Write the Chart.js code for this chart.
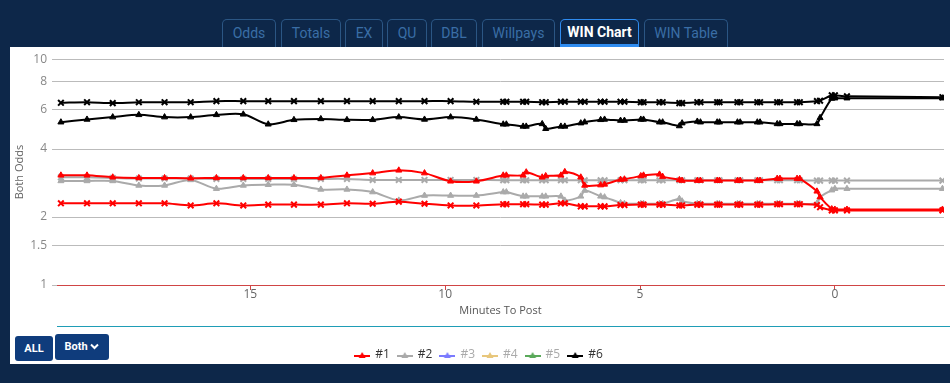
<!DOCTYPE html>
<html>
<head>
<meta charset="utf-8">
<script src="https://cdn.jsdelivr.net/npm/chart.js@4.4.0/dist/chart.umd.min.js"></script>
<style>
    body { margin: 0; width: 950px; height: 383px; background: #0d2749; overflow: hidden; position: relative; font-family: Roboto, sans-serif; }
    .tab { position: absolute; top: 19px; height: 28px; box-sizing: border-box; border: 1px solid #2b5684; border-bottom: none; border-radius: 5px 5px 0 0; color: #3a6ea6; font-size: 14px; line-height: 26px; text-align: center; }
    .tab.active { color: #fff; font-weight: bold; border-color: #2f8cf0; border-bottom: 3px solid #2f8cf0; line-height: 24px; }
    .panel { position: absolute; left: 10px; top: 47px; width: 940px; height: 317px; background: #fff; }
    .chartBox { position: absolute; left: 10px; top: 47px; width: 940px; height: 324px; }
    .teal { position: absolute; left: 57px; top: 326px; width: 893px; height: 1px; background: #1f9db6; }
    .btn { position: absolute; background: #0f3c7c; color: #fff; font: bold 11px Roboto, sans-serif; border-radius: 3px; text-align: center; box-sizing: border-box; }
</style>
</head>
<body>
<div class="tab" style="left:222px;width:54px">Odds</div>
<div class="tab" style="left:281px;width:60px">Totals</div>
<div class="tab" style="left:345px;width:38px">EX</div>
<div class="tab" style="left:387px;width:40px">QU</div>
<div class="tab" style="left:431px;width:46px">DBL</div>
<div class="tab" style="left:482px;width:73px">Willpays</div>
<div class="tab active" style="left:560px;width:79px">WIN Chart</div>
<div class="tab" style="left:644px;width:84px">WIN Table</div>

<div class="panel"></div>
<div class="chartBox"><canvas id="winChart"></canvas></div>
<div class="teal"></div>
<div class="btn" style="left:15px;top:336px;width:38px;height:25px;line-height:25px">ALL</div>
<div class="btn" style="left:55px;top:334px;width:54px;height:26px;line-height:26px">Both <svg width="9" height="7" viewBox="0 0 9 7" style="vertical-align:0px"><path d="M1 1.5 L4.5 5 L8 1.5" stroke="#fff" stroke-width="2" fill="none"/></svg></div>

<script>
// minutes to post for every snapshot
const minutesToPost = [19.86, 19.19, 18.53, 17.86, 17.20, 16.53, 15.87, 15.18, 14.54, 13.88, 13.19, 12.52, 11.86, 11.19, 10.53, 9.86, 9.20,
    8.51, 8.43, 8.00, 7.92, 7.51, 7.42, 7.03, 6.93, 6.52, 6.42, 6.01, 5.91, 5.50, 5.40, 4.98, 4.91, 4.50, 4.42, 3.99, 3.92,
    3.53, 3.45, 3.02, 2.96, 2.50, 2.43, 1.99, 1.92, 1.48, 1.41, 0.97, 0.90, 0.46, 0.38, 0.08, 0.00, -0.31, -2.76];

// win odds (crosses)
const win1 = [2.30, 2.30, 2.30, 2.30, 2.30, 2.25, 2.30, 2.25, 2.27, 2.27, 2.27, 2.30, 2.29, 2.34, 2.29, 2.25, 2.25,
    2.28, 2.28, 2.28, 2.28, 2.27, 2.27, 2.30, 2.30, 2.23, 2.23, 2.23, 2.23, 2.26, 2.26, 2.27, 2.27, 2.27, 2.27, 2.25, 2.25,
    2.27, 2.27, 2.27, 2.27, 2.27, 2.27, 2.27, 2.27, 2.28, 2.28, 2.28, 2.28, 2.26, 2.21, 2.14, 2.14, 2.14, 2.14];
const win2 = [3.00, 3.00, 2.98, 2.96, 2.96, 2.96, 2.95, 2.95, 2.95, 2.95, 2.95, 2.95, 2.92, 2.92, 2.92, 2.92, 2.92,
    2.91, 2.91, 2.91, 2.91, 2.91, 2.91, 2.91, 2.91, 2.91, 2.91, 2.91, 2.91, 2.91, 2.91, 2.91, 2.91, 2.91, 2.91, 2.91, 2.91,
    2.91, 2.91, 2.91, 2.91, 2.91, 2.91, 2.91, 2.91, 2.91, 2.91, 2.91, 2.91, 2.90, 2.90, 2.90, 2.90, 2.90, 2.90];
const win6 = [6.41, 6.45, 6.39, 6.45, 6.45, 6.45, 6.52, 6.52, 6.52, 6.52, 6.52, 6.52, 6.52, 6.52, 6.52, 6.52, 6.48,
    6.48, 6.48, 6.48, 6.48, 6.45, 6.45, 6.48, 6.48, 6.48, 6.48, 6.48, 6.48, 6.48, 6.48, 6.45, 6.45, 6.45, 6.45, 6.39, 6.39,
    6.45, 6.45, 6.45, 6.45, 6.45, 6.45, 6.45, 6.45, 6.45, 6.45, 6.45, 6.45, 6.52, 6.55, 6.92, 6.92, 6.85, 6.79];

// both odds (triangles)
const both1 = [3.06, 3.06, 3.00, 2.98, 2.98, 2.97, 2.98, 2.98, 2.98, 2.98, 2.98, 3.06, 3.13, 3.22, 3.13, 2.88, 2.88,
    3.06, 3.06, 3.06, 3.16, 3.00, 3.04, 3.06, 3.17, 3.00, 2.76, 2.77, 2.79, 2.93, 2.94, 3.04, 3.06, 3.09, 3.02, 2.92, 2.90,
    2.90, 2.90, 2.90, 2.90, 2.90, 2.90, 2.90, 2.90, 2.96, 2.96, 2.96, 2.96, 2.60, 2.45, 2.17, 2.16, 2.16, 2.16];
const both2 = [2.89, 2.89, 2.89, 2.76, 2.76, 2.92, 2.67, 2.76, 2.78, 2.78, 2.65, 2.65, 2.58, 2.37, 2.49, 2.49, 2.49,
    2.58, 2.58, 2.47, 2.47, 2.47, 2.47, 2.47, 2.37, 2.47, 2.62, 2.47, 2.45, 2.31, 2.29, 2.29, 2.29, 2.29, 2.29, 2.41, 2.35,
    2.29, 2.29, 2.29, 2.29, 2.29, 2.29, 2.29, 2.29, 2.29, 2.29, 2.29, 2.29, 2.30, 2.45, 2.63, 2.67, 2.67, 2.67];
const both6 = [5.26, 5.41, 5.54, 5.67, 5.54, 5.54, 5.67, 5.70, 5.15, 5.39, 5.44, 5.39, 5.39, 5.54, 5.41, 5.54, 5.41,
    5.15, 5.15, 5.04, 5.04, 5.17, 4.92, 5.04, 5.04, 5.21, 5.26, 5.39, 5.41, 5.35, 5.35, 5.41, 5.41, 5.26, 5.26, 5.06, 5.21,
    5.30, 5.26, 5.26, 5.26, 5.26, 5.26, 5.26, 5.26, 5.17, 5.17, 5.17, 5.17, 5.17, 5.50, 6.70, 6.72, 6.72, 6.72];

const horseLabels = ["#1", "#2", "#3", "#4", "#5", "#6"];
const horseColors = ["#ff0000", "#aaaaaa", "#7b7bff", "#e8c77c", "#5aa95a", "#000000"];
const horseWin = [win1, win2, [], [], [], win6];
const horseBoth = [both1, both2, [], [], [], both6];
const yTicks = [1, 1.5, 2, 4, 6, 8, 10];
const xTicks = [15, 10, 5, 0];

function toPoints(values) {
    return values.map((v, i) => ({ x: minutesToPost[i], y: v }));
}

// small line + triangle icon for the legend
function legendIcon(color) {
    const c = document.createElement("canvas");
    c.width = 16;
    c.height = 10;
    const g = c.getContext("2d");
    g.strokeStyle = color;
    g.lineWidth = 2;
    g.beginPath();
    g.moveTo(0, 6);
    g.lineTo(16, 6);
    g.stroke();
    g.fillStyle = color;
    g.beginPath();
    g.moveTo(8, 2);
    g.lineTo(11.5, 8);
    g.lineTo(4.5, 8);
    g.closePath();
    g.fill();
    return c;
}

const datasets = [];
horseLabels.forEach((label, i) => {
    datasets.push({
        label: label,
        data: toPoints(horseBoth[i]),
        borderColor: horseColors[i],
        backgroundColor: horseColors[i],
        borderWidth: 2,
        pointStyle: "triangle",
        pointRadius: 3.5,
        pointBorderWidth: 1,
        tension: 0.3,
        legendIcon: legendIcon(horseColors[i]),
        inLegend: true
    });
    datasets.push({
        label: label + " win",
        data: toPoints(horseWin[i]),
        borderColor: horseColors[i],
        backgroundColor: horseColors[i],
        borderWidth: 2,
        pointStyle: "crossRot",
        pointRadius: 4,
        pointBorderWidth: 2,
        tension: 0.3,
        inLegend: false
    });
});

Chart.defaults.font.family = "'Open Sans', sans-serif";
Chart.defaults.font.size = 12;

const axisRed = "#d04545";

new Chart(document.getElementById("winChart"), {
    type: "line",
    data: { datasets: datasets },
    options: {
        responsive: true,
        maintainAspectRatio: false,
        animation: false,
        layout: { padding: { top: 9, right: 2, bottom: 0, left: 0 } },
        scales: {
            x: {
                type: "linear",
                reverse: true,
                min: -2.8,
                max: 19.96,
                afterBuildTicks: scale => { scale.ticks = xTicks.map(v => ({ value: v })); },
                afterFit: scale => { scale.height = 56; },
                border: { color: axisRed, width: 1 },
                grid: { drawOnChartArea: false, color: axisRed, tickLength: 5 },
                ticks: { color: "#666", padding: -3, font: { size: 12 } },
                title: { display: true, text: "Minutes To Post", color: "#555", font: { size: 11 }, padding: { top: 0, bottom: 24 } }
            },
            y: {
                type: "logarithmic",
                min: 1,
                max: 10,
                afterBuildTicks: scale => { scale.ticks = yTicks.map(v => ({ value: v })); },
                afterFit: scale => { scale.width = 47; },
                border: { display: false },
                grid: {
                    color: ctx => (ctx.tick && ctx.tick.value === 1 ? axisRed : "#bbbbbb"),
                    tickColor: "#bbbbbb",
                    tickLength: 5
                },
                ticks: { color: "#888", padding: 5, font: { size: 12 }, callback: v => String(v) },
                title: { display: true, text: "Both Odds", color: "#666", font: { size: 11 }, padding: { top: 3, bottom: 0 } }
            }
        },
        plugins: {
            tooltip: { enabled: false },
            legend: {
                position: "bottom",
                labels: {
                    usePointStyle: true,
                    pointStyleWidth: 14,
                    padding: 8,
                    font: { size: 12 },
                    generateLabels: chart => chart.data.datasets
                        .map((ds, i) => ({ ds, i }))
                        .filter(o => o.ds.inLegend)
                        .map(o => ({
                            text: o.ds.label,
                            datasetIndex: o.i,
                            pointStyle: o.ds.legendIcon,
                            fillStyle: o.ds.borderColor,
                            strokeStyle: o.ds.borderColor,
                            lineWidth: 0,
                            hidden: false,
                            fontColor: o.ds.data.length ? "#333" : "#aaa"
                        }))
                }
            }
        }
    }
});
</script>
</body>
</html>
